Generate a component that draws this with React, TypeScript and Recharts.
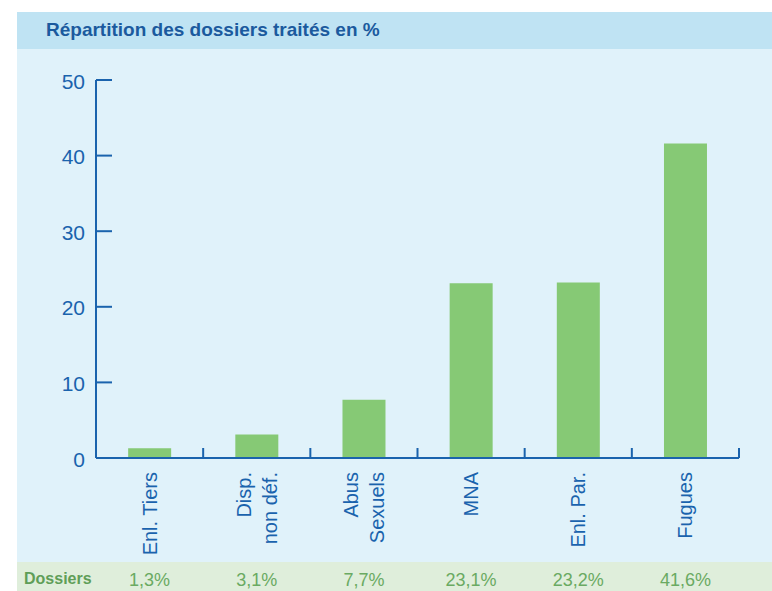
import { BarChart, Bar, XAxis, YAxis } from 'recharts'

const CATEGORIES = ['Enl. Tiers', 'Disp.\nnon déf.', 'Abus\nSexuels', 'MNA', 'Enl. Par.', 'Fugues']
const SHARES = [1.3, 3.1, 7.7, 23.1, 23.2, 41.6]
const Y_TICKS = [0, 10, 20, 30, 40, 50]

const BLUE = '#1a63ad'
const GREEN_TEXT = '#6aaa62'
const FONT = "'Liberation Sans', Arial, sans-serif"
const NARROW = "'Liberation Sans Narrow', 'Liberation Sans', Arial, sans-serif"

const W = 772
const H = 591
const MARGIN = { top: 80, right: 33, left: 36, bottom: 33 }
const Y_AXIS_W = 60
const X_AXIS_H = 100
const HALF_BAND = (W - MARGIN.left - Y_AXIS_W - MARGIN.right) / CATEGORIES.length / 2

const data = CATEGORIES.map((name, i) => ({ name, value: SHARES[i] }))

const fmt = (v: number) => v.toFixed(1).replace('.', ',') + '%'

function YTick(props: any) {
    const { x, y, payload } = props
    return (
        <g>
            <line x1={x} x2={x + 16} y1={y} y2={y} stroke={BLUE} strokeWidth={2} />
            <text x={x - 11} y={y + 1} textAnchor="end" dominantBaseline="central" fill={BLUE} fontSize={21} fontFamily={FONT}>
                {payload.value}
            </text>
        </g>
    )
}

function XTick(props: any) {
    const { x, y, payload, index } = props
    const lines = String(payload.value).split('\n')
    const gap = 26
    return (
        <g>
            <line x1={x + HALF_BAND} x2={x + HALF_BAND} y1={y} y2={y - 10} stroke={BLUE} strokeWidth={2} />
            <g transform={`translate(${x},${y + 14}) rotate(-90)`}>
                {lines.map((l, i) => (
                    <text
                        key={i}
                        x={0}
                        y={(i - (lines.length - 1) / 2) * gap}
                        textAnchor="end"
                        dominantBaseline="central"
                        fill={BLUE}
                        fontSize={20}
                        fontFamily={FONT}
                    >
                        {l}
                    </text>
                ))}
            </g>
            <text x={x} y={580} textAnchor="middle" dominantBaseline="central" fill={GREEN_TEXT} fontSize={18} fontFamily={FONT}>
                {fmt(SHARES[index])}
            </text>
        </g>
    )
}

export default function App() {
    return (
        <div style={{ position: 'absolute', left: 0, top: 0, width: W, height: H, background: '#fff', overflow: 'hidden' }}>
            <div style={{ position: 'absolute', left: 17, top: 12, width: W - 17, height: 37, background: '#bfe3f3' }} />
            <div style={{ position: 'absolute', left: 17, top: 49, width: W - 17, height: 513, background: '#e0f2fa' }} />
            <div style={{ position: 'absolute', left: 17, top: 562, width: W - 17, height: 29, background: '#dfeedb' }} />
            <div
                style={{
                    position: 'absolute',
                    left: 46,
                    top: 19,
                    fontFamily: NARROW,
                    fontWeight: 'bold',
                    fontSize: 19,
                    color: '#1b5a9e',
                    whiteSpace: 'nowrap',
                }}
            >
                Répartition des dossiers traités en %
            </div>
            <div
                style={{
                    position: 'absolute',
                    left: 24,
                    top: 570,
                    fontFamily: NARROW,
                    fontWeight: 'bold',
                    fontSize: 16,
                    color: '#5f9e58',
                }}
            >
                Dossiers
            </div>
            <div style={{ position: 'absolute', left: 0, top: 0 }}>
                <BarChart width={W} height={H} data={data} margin={MARGIN} barCategoryGap="30%">
                    <YAxis
                        width={Y_AXIS_W}
                        domain={[0, 50]}
                        ticks={Y_TICKS}
                        tickSize={0}
                        tickMargin={0}
                        tickLine={false}
                        axisLine={{ stroke: BLUE, strokeWidth: 2 }}
                        tick={<YTick />}
                        allowDataOverflow
                    />
                    <XAxis
                        dataKey="name"
                        height={X_AXIS_H}
                        tickSize={0}
                        tickMargin={0}
                        tickLine={false}
                        interval={0}
                        axisLine={{ stroke: BLUE, strokeWidth: 2 }}
                        tick={<XTick />}
                    />
                    <Bar dataKey="value" fill="#86c975" isAnimationActive={false} />
                </BarChart>
            </div>
        </div>
    )
}
